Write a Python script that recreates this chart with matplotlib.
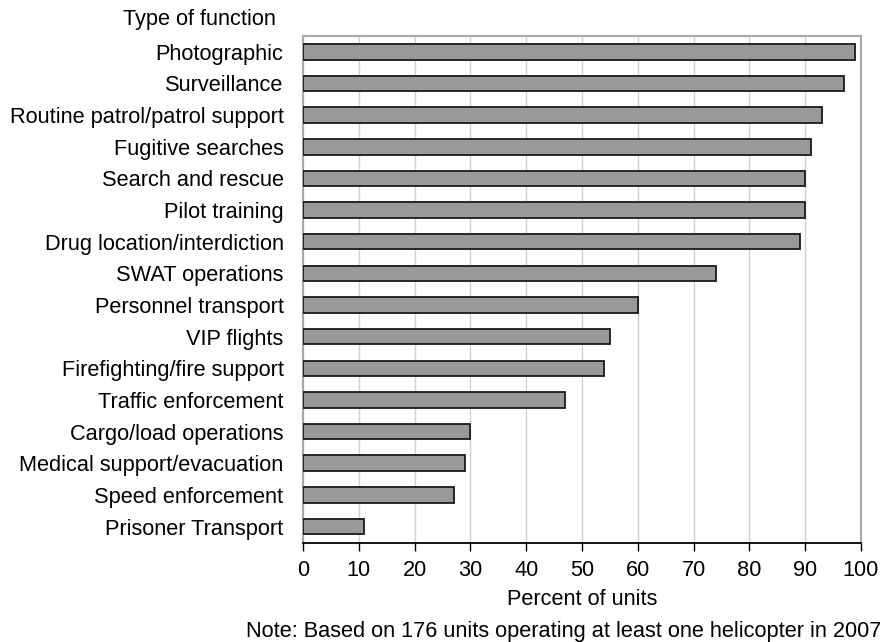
import matplotlib
matplotlib.use('Agg')
import matplotlib.pyplot as plt

functions = ['Photographic', 'Surveillance', 'Routine patrol/patrol support',
             'Fugitive searches', 'Search and rescue', 'Pilot training',
             'Drug location/interdiction', 'SWAT operations', 'Personnel transport',
             'VIP flights', 'Firefighting/fire support', 'Traffic enforcement',
             'Cargo/load operations', 'Medical support/evacuation',
             'Speed enforcement', 'Prisoner Transport']
percent = [99, 97, 93, 91, 90, 90, 89, 74, 60, 55, 54, 47, 30, 29, 27, 11]
xticks = list(range(0, 101, 10))


def main():
    plt.rcParams['font.family'] = ['Liberation Sans', 'DejaVu Sans']
    plt.rcParams['font.size'] = 15.7

    fig = plt.figure(figsize=(8.8, 6.42), dpi=100)
    ax = fig.add_axes([0.3443, 0.1542, 0.634, 0.7897])

    ypos = list(range(len(functions)))[::-1]
    ax.barh(ypos, percent, height=0.49, color='#999999',
            edgecolor='#1a1a1a', linewidth=1.3, zorder=3)

    ax.set_xlim(0, 100)
    ax.set_ylim(-0.52, 15.5)
    ax.set_xticks(xticks)
    ax.set_yticks(ypos)
    ax.set_yticklabels(functions)
    ax.tick_params(axis='y', length=0, pad=14)
    ax.tick_params(axis='x', direction='out', length=6, width=1, pad=6)
    ax.grid(axis='x', color='#d0d0d0', linewidth=1, zorder=0)

    for s in ['top', 'right', 'left']:
        ax.spines[s].set_color('#a8a8a8')
        ax.spines[s].set_linewidth(1.5)
    ax.spines['bottom'].set_color('black')
    ax.spines['bottom'].set_linewidth(1.3)

    ax.set_xlabel('Percent of units', labelpad=6)
    fig.text(0.227, 0.969, 'Type of function', ha='center', va='center')
    fig.text(0.279, 0.017,
             'Note: Based on 176 units operating at least one helicopter in 2007',
             ha='left', va='center')

    fig.savefig('out.png', dpi=100)


if __name__ == '__main__':
    main()
